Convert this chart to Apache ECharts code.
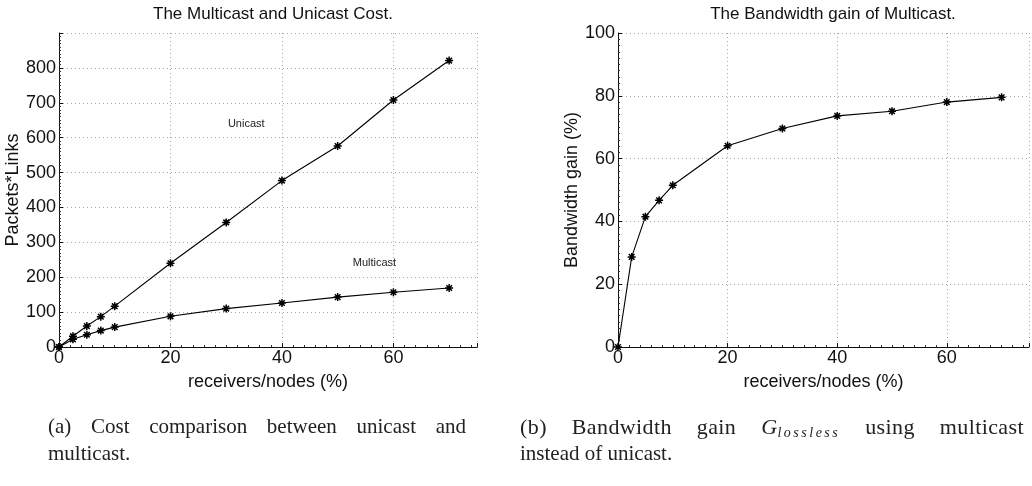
<!DOCTYPE html>
<html>
<head>
<meta charset="utf-8">
<script src="https://cdn.jsdelivr.net/npm/echarts@6/dist/echarts.min.js"></script>
<style>
  html, body { margin: 0; padding: 0; background: #fff; }
  #wrap { position: relative; width: 1032px; height: 486px; overflow: hidden; }
  #chart { position: absolute; left: 0; top: 0; width: 1032px; height: 486px; }
  .cap { position: absolute; font-family: "Liberation Serif", "DejaVu Serif", serif;
         font-size: 21px; line-height: 27px; color: #222; white-space: nowrap; }
  .cap.full { text-align: justify; text-align-last: justify; white-space: normal; }
  .cap i { font-style: italic; }
  .sub { font-size: 14px; font-style: italic; letter-spacing: 2.5px; position: relative; top: 3px; }
</style>
</head>
<body>
<div id="wrap">
  <div id="chart"></div>
  <div class="cap full" style="left:48px; top:413px; width:418px;">(a) Cost comparison between unicast and</div>
  <div class="cap" style="left:48px; top:440px;">multicast.</div>
  <div class="cap full" style="left:520px; top:413px; width:504px; font-size:22px; letter-spacing:0.4px;">(b) Bandwidth gain <i>G</i><span class="sub">lossless</span> using multicast</div>
  <div class="cap" style="left:520px; top:440px;">instead of unicast.</div>
</div>
<script>
// Fraction of nodes acting as receivers (%)
const receivers = [0, 2.5, 5, 7.5, 10, 20, 30, 40, 50, 60, 70];
// Total cost in packets*links
const unicastCost = [0, 31, 60, 87, 117, 240, 357, 477, 576, 708, 821];
const multicastCost = [0, 22, 35, 47, 57, 88, 110, 126, 143, 157, 169];
// Bandwidth gain of multicast over unicast (%)
const bandwidthGain = [0, 28.7, 41.5, 46.7, 51.5, 64.1, 69.6, 73.6, 75.1, 78.0, 79.5];

const xTicks = [0, 20, 40, 60];
const costTicks = [0, 100, 200, 300, 400, 500, 600, 700, 800];
const gainTicks = [0, 20, 40, 60, 80, 100];

const pairs = (xs, ys) => xs.map((x, i) => [x, ys[i]]);

// MATLAB-like '*' marker
const star = 'path://M5 0L5 10M0 5L10 5M1.5 1.5L8.5 8.5M1.5 8.5L8.5 1.5';
const FONT = '"Liberation Sans", Arial, sans-serif';

function xAxisDef(gridIndex) {
  return {
    type: 'value', gridIndex, min: 0, max: 75, interval: 20,
    name: 'receivers/nodes (%)', nameLocation: 'middle', nameGap: 26,
    nameTextStyle: { fontFamily: FONT, fontSize: 18, color: '#111' },
    axisLine: { show: true, onZero: false, lineStyle: { color: '#111', width: 1 } },
    axisTick: { show: true, inside: true, length: 4, lineStyle: { color: '#111' } },
    minorTick: { show: true, splitNumber: 10, length: 2, lineStyle: { color: '#333' } },
    axisLabel: { fontFamily: FONT, fontSize: 18, color: '#111', margin: 2,
                 formatter: v => (xTicks.includes(v) ? String(v) : '') },
    splitLine: { show: true, lineStyle: { color: '#aaa', type: [1, 3], width: 1 } }
  };
}
function topLine(gridIndex) {
  return {
    type: 'value', gridIndex, position: 'top', min: 0, max: 75,
    axisLine: { show: true, lineStyle: { color: '#111', type: [1, 2], width: 1 } },
    axisTick: { show: false }, axisLabel: { show: false }, splitLine: { show: false }
  };
}
function yAxisDef(gridIndex, name, max, interval, ticks, gap) {
  return {
    type: 'value', gridIndex, min: 0, max, interval,
    name, nameLocation: 'middle', nameGap: gap,
    nameTextStyle: { fontFamily: FONT, fontSize: 18, color: '#111' },
    axisLine: { show: true, lineStyle: { color: '#111', width: 1 } },
    axisTick: { show: true, inside: true, length: 4, lineStyle: { color: '#111' } },
    minorTick: { show: true, splitNumber: 10, length: 2, lineStyle: { color: '#333' } },
    axisLabel: { fontFamily: FONT, fontSize: 18, color: '#111', margin: 3,
                 formatter: v => (ticks.includes(v) ? String(v) : '') },
    splitLine: { show: true, lineStyle: { color: '#aaa', type: [1, 3], width: 1 } }
  };
}
function note(text, coord) {
  return {
    symbol: 'rect', symbolSize: 1, silent: true,
    itemStyle: { color: 'transparent', borderWidth: 0 },
    label: { show: true, position: 'inside', formatter: text,
             fontFamily: FONT, fontSize: 11, color: '#222' },
    data: [{ coord }]
  };
}
const markerStyle = { color: 'transparent', borderColor: '#000', borderWidth: 1.5 };

const option = {
  animation: false,
  backgroundColor: '#fff',
  title: [
    { text: 'The Multicast and Unicast Cost.', left: 268, top: 1, textAlign: 'center',
      textStyle: { fontFamily: FONT, fontSize: 17, fontWeight: 'normal', color: '#111' } },
    { text: 'The Bandwidth gain of Multicast.', left: 828, top: 1, textAlign: 'center',
      textStyle: { fontFamily: FONT, fontSize: 17, fontWeight: 'normal', color: '#111' } }
  ],
  grid: [
    { left: 59, top: 33, width: 418, height: 314 },
    { left: 618, top: 33, width: 419, height: 314 }
  ],
  xAxis: [xAxisDef(0), xAxisDef(1), topLine(0), topLine(1)],
  yAxis: [
    yAxisDef(0, 'Packets*Links', 900, 100, costTicks, 28),
    yAxisDef(1, 'Bandwidth gain (%)', 100, 20, gainTicks, 29)
  ],
  series: [
    {
      name: 'Unicast', type: 'line', xAxisIndex: 0, yAxisIndex: 0,
      data: pairs(receivers, unicastCost),
      symbol: star, symbolSize: 8, itemStyle: markerStyle,
      lineStyle: { color: '#000', width: 1.1 },
      markPoint: note('Unicast', [33.6, 640])
    },
    {
      name: 'Multicast', type: 'line', xAxisIndex: 0, yAxisIndex: 0,
      data: pairs(receivers, multicastCost),
      symbol: star, symbolSize: 8, itemStyle: markerStyle,
      lineStyle: { color: '#000', width: 1.1 },
      markPoint: note('Multicast', [56.6, 241])
    },
    {
      name: 'Gain', type: 'line', xAxisIndex: 1, yAxisIndex: 1,
      data: pairs(receivers, bandwidthGain),
      symbol: star, symbolSize: 8, itemStyle: markerStyle,
      lineStyle: { color: '#000', width: 1.1 }
    }
  ]
};

const chart = echarts.init(document.getElementById('chart'), null, { renderer: 'canvas' });
chart.setOption(option);
</script>
</body>
</html>
